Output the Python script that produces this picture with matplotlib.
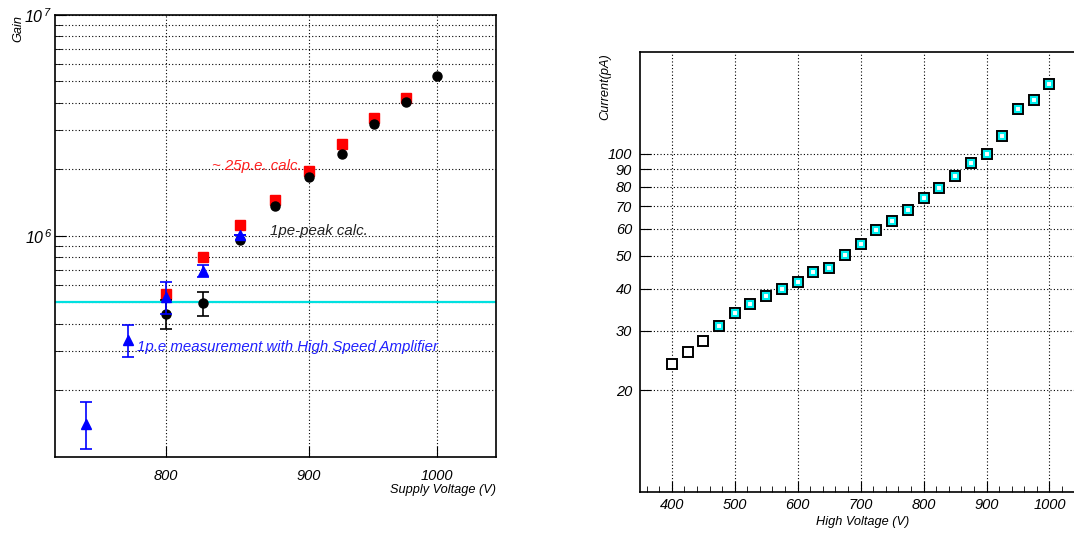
import matplotlib
matplotlib.use("Agg")
import matplotlib.pyplot as plt
from matplotlib.ticker import MultipleLocator, NullLocator, FixedLocator

plt.rcParams['font.family'] = ['Liberation Sans', 'DejaVu Sans']
plt.rcParams['font.style'] = 'italic'
plt.rcParams['mathtext.fontset'] = 'custom'
plt.rcParams['mathtext.rm'] = 'Liberation Sans:italic'
plt.rcParams['mathtext.it'] = 'Liberation Sans:italic'

# ---- left panel: gain vs supply voltage
peak_v = [800, 825, 850, 875, 900, 925, 950, 975, 1000]
peak_gain = [4.43e5, 4.96e5, 9.62e5, 1.367e6, 1.855e6, 2.35e6, 3.21e6, 4.04e6, 5.28e6]
peak_err_v = [800, 825]
peak_err_gain = [4.43e5, 4.96e5]
peak_err_lo = [3.78e5, 4.33e5]
peak_err_hi = [5.10e5, 5.56e5]

pe25_v = [800, 825, 850, 875, 900, 925, 950, 975]
pe25_gain = [5.47e5, 8.01e5, 1.118e6, 1.455e6, 1.975e6, 2.60e6, 3.42e6, 4.20e6]

amp_v = [749, 775, 800, 825, 850]
amp_gain = [1.41e5, 3.36e5, 5.31e5, 6.94e5, 1.01e6]
amp_lo = [1.083e5, 2.83e5, 4.41e5, 6.54e5, 1.01e6]
amp_hi = [1.768e5, 3.93e5, 6.21e5, 7.39e5, 1.01e6]

ref_gain = 5e5

# ---- right panel: current vs high voltage
cur_v = [400, 425, 450, 475, 500, 525, 550, 575, 600, 625, 650, 675, 700,
         725, 750, 775, 800, 825, 850, 875, 900, 925, 950, 975, 1000]
cur_i = [24.0, 26.0, 28.0, 30.9, 33.9, 35.9, 38.0, 39.9, 41.9, 44.9, 46.0, 50.1, 54.1,
         59.4, 63.3, 68.1, 74.1, 79.3, 86.1, 94.2, 100, 113, 135.3, 144.5, 160.4]
cyan_from = 3  # cyan series starts at 475 V

W, H = 1074, 533
fig = plt.figure(figsize=(W / 100, H / 100), dpi=100)

def frac(x0, y0, x1, y1):
    return [x0 / W, 1 - y1 / H, (x1 - x0) / W, (y1 - y0) / H]

grid_kw = dict(color='black', linestyle=(0, (1, 2)), linewidth=0.8)

ax1 = fig.add_axes(frac(55, 15, 495.7, 456.7))
ax1.set_xscale('log')
ax1.set_yscale('log')
ax1.set_xlim(730, 1050)
ax1.set_ylim(1e5, 1e7)

ax1.axhline(ref_gain, color='#00e0e0', linewidth=1.6, zorder=2)
ax1.plot(pe25_v, pe25_gain, 's', color='#ff0000', markersize=6.5, zorder=3)
ax1.errorbar(peak_err_v, peak_err_gain,
             yerr=[[g - l for g, l in zip(peak_err_gain, peak_err_lo)],
                   [h - g for g, h in zip(peak_err_gain, peak_err_hi)]],
             fmt='none', ecolor='black', elinewidth=1.2, capsize=4, capthick=1.2, zorder=4)
ax1.plot(peak_v, peak_gain, 'o', color='black', markersize=6.5, zorder=4)
ax1.errorbar(amp_v, amp_gain,
             yerr=[[g - l for g, l in zip(amp_gain, amp_lo)],
                   [h - g for g, h in zip(amp_gain, amp_hi)]],
             fmt='^', color='#0000ff', markersize=6.5, elinewidth=1.2,
             capsize=4, capthick=1.2, zorder=5)

ax1.text(831, 2.07e6, '~ 25p.e. calc.', color='#ff2020', fontsize=10.8, va='center')
ax1.text(872, 1.057e6, '1pe-peak calc.', color='#202020', fontsize=10.8, va='center')
ax1.text(781, 3.15e5, '1p.e measurement with High Speed Amplifier', color='#2020ff',
         fontsize=10.8, va='center')

ax1.xaxis.set_major_locator(FixedLocator([800, 900, 1000]))
ax1.xaxis.set_minor_locator(NullLocator())
ax1.set_xticklabels(['800', '900', '1000'])
ax1.yaxis.set_major_locator(FixedLocator([1e6, 1e7]))
ax1.set_yticklabels([r'$10^{\,6}$', r'$10^{\,7}$'])
ax1.yaxis.set_minor_locator(FixedLocator([m * d for d in (1e5, 1e6) for m in range(2, 10)]))
ax1.yaxis.set_minor_formatter(plt.NullFormatter())
ax1.tick_params(which='both', direction='in', labelsize=10.5)
ax1.tick_params(axis='x', which='major', length=8, pad=9)
ax1.tick_params(axis='y', which='major', length=8, pad=2, labelsize=11.5)
ax1.tick_params(axis='y', which='minor', length=5)
ax1.grid(True, which='major', axis='x', **grid_kw)
ax1.grid(True, which='both', axis='y', **grid_kw)
for sp in ax1.spines.values():
    sp.set_linewidth(1.2)

fig.text(495.7 / W, 1 - 490 / H, 'Supply Voltage (V)', ha='right', va='center', fontsize=9.2)
fig.text(18 / W, 1 - 15 / H, 'Gain', rotation=90, ha='center', va='top', fontsize=9.2)

ax2 = fig.add_axes(frac(640.3, 52, 1074, 492.3))
ax2.set_yscale('log')
ax2.set_xlim(350, 1039)
ax2.set_ylim(10, 200)

ax2.plot(cur_v, cur_i, 's', markerfacecolor='white', markeredgecolor='black',
         markersize=7, markeredgewidth=1.4, zorder=3)
ax2.plot(cur_v[cyan_from:], cur_i[cyan_from:], 's', markerfacecolor='white',
         markeredgecolor='#00eeee', markersize=5, markeredgewidth=1.5, zorder=4)

ax2.xaxis.set_major_locator(MultipleLocator(100))
ax2.xaxis.set_minor_locator(MultipleLocator(20))
yt = [20, 30, 40, 50, 60, 70, 80, 90, 100]
ax2.yaxis.set_major_locator(FixedLocator(yt))
ax2.set_yticklabels([str(v) for v in yt])
ax2.yaxis.set_minor_locator(NullLocator())
ax2.set_xticks([400, 500, 600, 700, 800, 900, 1000])
ax2.tick_params(which='both', direction='in', labelsize=10.5)
ax2.tick_params(axis='x', which='major', length=8, pad=4)
ax2.tick_params(axis='x', which='minor', length=4)
ax2.tick_params(axis='y', which='major', length=8, pad=6)
ax2.grid(True, which='major', **grid_kw)
ax2.spines['right'].set_visible(False)
for sp in ax2.spines.values():
    sp.set_linewidth(1.2)

fig.text(909 / W, 1 - 522 / H, 'High Voltage (V)', ha='right', va='center', fontsize=9.2)
fig.text(605 / W, 1 - 53 / H, 'Current(pA)', rotation=90, ha='center', va='top', fontsize=9.2)

fig.savefig('out.png', dpi=100)
